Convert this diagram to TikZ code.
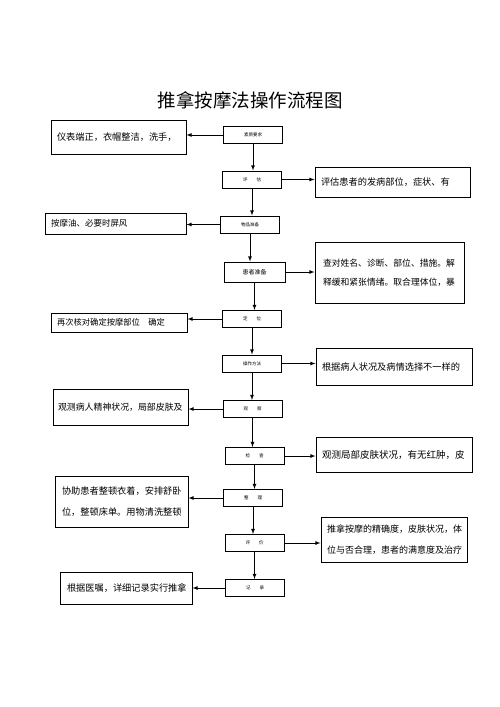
\documentclass[tikz,border=0pt]{standalone}
\usepackage{fontspec}
\setmainfont{Noto Sans CJK SC}
\usetikzlibrary{arrows}
\tikzset{>=latex}

\begin{document}
\begin{tikzpicture}[x=1pt, y=-1pt,
    mid/.style={draw, line width=1pt, minimum width=59pt, minimum height=17pt, inner sep=0pt, font=\fontsize{4.5}{5}\selectfont},
    side/.style={draw, line width=1pt, inner xsep=6pt, inner ysep=0pt, align=left, font=\fontsize{9.2}{21}\selectfont},
    link/.style={->, line width=0.8pt}]
    \useasboundingbox (0,0) rectangle (500,707);
    \node (title) at (250,100) {\fontsize{18.5}{20}\selectfont 推拿按摩法操作流程图};
    % steps in the middle
    \node [mid] (s1) at (253,135) {素质要求};
    \node [mid] (s2) at (252,179.5) {评　　估};
    \node [mid] (s3) at (250,224.5) {物品准备};
    \node [mid, minimum width=61pt, minimum height=20pt, font=\fontsize{6}{7}\selectfont] (s4) at (254.5,272) {患者准备};
    \node [mid] (s5) at (252,319) {定　　位};
    \node [mid] (s6) at (252,363.5) {操作方法};
    \node [mid] (s7) at (252.5,409) {观　　察};
    \node [mid] (s8) at (254.5,456) {检　　查};
    \node [mid] (s9) at (253,498) {整　　理};
    \node [mid] (s10) at (254.5,543) {评　　价};
    \node [mid] (s11) at (255,588) {记　　录};
    % notes left and right
    \node [side, text width=123pt, minimum height=34pt] (n1) at (118.5,137) {仪表端正，衣帽整洁，洗手，};
    \node [side, text width=143pt, minimum height=30pt] (n2) at (392.5,182) {评估患者的发病部位，症状、有};
    \node [side, text width=129pt, minimum height=21pt, font=\fontsize{8.5}{10}\selectfont] (n3) at (115.5,223.5) {按摩油、必要时屏风};
    \node [side, text width=133pt, minimum height=61pt, inner xsep=8pt, font=\fontsize{8.8}{19}\selectfont] (n4) at (389.5,272.5) {查对姓名、诊断、部位、措施。解\\释缓和紧张情绪。取合理体位，暴\\[4pt]};
    \node [side, text width=124pt, minimum height=19pt, font=\fontsize{8.3}{10}\selectfont] (n5) at (119,322.5) {再次核对确定按摩部位　确定};
    \node [side, text width=144pt, minimum height=37pt] (n6) at (394,366.5) {根据病人状况及病情选择不一样的};
    \node [side, text width=125pt, minimum height=36pt, inner xsep=5pt, font=\fontsize{8.9}{10}\selectfont] (n7) at (120.5,407) {观测病人精神状况，局部皮肤及};
    \node [side, text width=144pt, minimum height=35pt, font=\fontsize{9.5}{10}\selectfont] (n8) at (394,454.5) {观测局部皮肤状况，有无红肿，皮};
    \node [side, text width=119pt, minimum height=51pt, inner xsep=7pt] (n9) at (121.5,501.5) {协助患者整顿衣着，安排舒卧\\位，整顿床单。用物清洗整顿};
    \node [side, text width=134pt, minimum height=45pt, font=\fontsize{9}{21}\selectfont] (n10) at (394,539.5) {推拿按摩的精确度，皮肤状况，体\\位与否合理，患者的满意度及治疗};
    \node [side, text width=118pt, minimum height=32pt, inner xsep=7pt] (n11) at (126,588) {根据医嘱，详细记录实行推拿};
    % down the middle
    \draw [link] (s1.south) -- (s1.south |- s2.north);
    \draw [link] (s2.south) -- (s2.south |- s3.north);
    \draw [link] (s3.south) -- (s3.south |- s4.north);
    \draw [link] (s4.south) -- (s4.south |- s5.north);
    \draw [link] (s5.south) -- (s5.south |- s6.north);
    \draw [link] (s6.south) -- (s6.south |- s7.north);
    \draw [link] (s7.south) -- (s7.south |- s8.north);
    \draw [link] (s8.south) -- (s8.south |- s9.north);
    \draw [link] (s9.south) -- (s9.south |- s10.north);
    \draw [link] (s10.south) -- (s10.south |- s11.north);
    % out to the notes
    \draw [link] (s1.west) -- (n1.east |- s1.west);
    \draw [link] (s2.east) -- (n2.west |- s2.east);
    \draw [link] (s3.west) -- (n3.east |- s3.west);
    \draw [link] (s4.east) -- (n4.west |- s4.east);
    \draw [link] (s5.west) -- (n5.east |- s5.west);
    \draw [link] (s6.east) -- (n6.west |- s6.east);
    \draw [link] (s7.west) -- (n7.east |- s7.west);
    \draw [link] (s8.east) -- (n8.west |- s8.east);
    \draw [link] (s9.west) -- (n9.east |- s9.west);
    \draw [link] (s10.east) -- (n10.west |- s10.east);
    \draw [link] (s11.west) -- (n11.east |- s11.west);
\end{tikzpicture}
\end{document}
